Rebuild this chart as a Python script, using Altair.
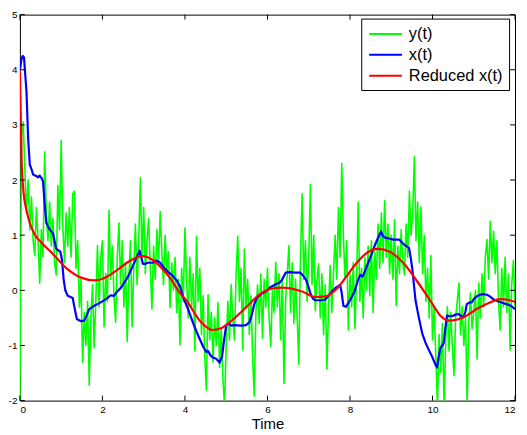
import altair as alt
import pandas as pd

SERIES = ["y(t)", "x(t)", "Reduced x(t)"]
COLORS = ["#00ff00", "#0000ff", "#ff0000"]
TICKS_X = [0, 2, 4, 6, 8, 10, 12]
TICKS_Y = [-2, -1, 0, 1, 2, 3, 4, 5]

# y(t): noisy observation, sampled every 0.04
GREEN_Y = [
    -2.1, 2.8, 3.05, 2.2, 1.4, 2.0, 1.1, 1.69, 0.9, 0.63, 1.5, 0.9, 0.13, 1.1, 0.6, 2.51, 1.4, 0.9, 1.6, 0.8, 1.3, 0.5, 0.28, 1.9, 1.1,
    2.72, 1.2, 0.5, 1.4, 0.8, 1.5, 0.6, 1.75, 1.8, 0.4, 0.9, -0.3, 0.2, -1.31, -0.4, -1.0, -0.2, -1.72, -0.5, 0.1, -1.04, -0.2, 0.81, -0.3, 0.6,
    0.9, -0.66, 0.3, -0.2, 1.45, 0.2, 0.8, -0.1, -0.58, 0.6, 1.22, 0.1, 0.9, -0.3, 0.5, -0.93, 0.2, 0.9, -0.66, 0.4, 1.2, 0.1, 0.9, 2.04, 0.6,
    1.5, 0.3, 0.9, 1.3, 0.4, -0.34, 0.8, 0.2, 1.1, 0.5, 1.43, 0.7, 0.1, 1.0, 0.3, 0.7, -0.31, 0.5, 0.0, 0.6, -0.4, 0.2, -0.99, 0.4, -0.2,
    1.13, 0.2, -0.5, 0.6, -0.3, 0.3, -1.1, 0.98, -0.2, 0.4, -0.8, -0.1, -1.2, -1.81, -0.08, -0.9, -0.4, -1.3, -0.5, -1.0, -0.22, -1.4, -0.7, -1.6, -2.1,
    -1.0, -0.2, -0.9, 0.1, -0.5, -0.9, 0.3, 0.98, -0.2, 0.4, -1.08, 0.75, -0.3, 0.2, -0.8, -0.1, -1.2, -1.92, -0.4, 0.1, -0.6, 0.3, -0.87, 0.2, -0.3,
    0.4, -0.5, -1.02, 0.0, -0.4, 0.51, -0.3, 0.3, -0.9, 0.2, -1.69, -0.2, 0.3, 0.81, -0.4, 0.5, -0.6, 0.2, -0.5, -1.34, 0.6, 1.75, 0.2, 0.9, -0.2,
    0.6, 1.92, 0.1, 1.0, -0.37, 0.2, 0.48, -0.5, 0.3, -0.8, 0.1, -1.43, -0.3, 0.45, -0.4, 0.3, 1.0, 0.2, 1.5, 0.6, 2.3, 1.0, 0.2, 0.9, -0.72,
    0.3, -0.3, 0.5, -0.69, 0.2, 1.6, -0.2, 0.4, -0.5, 0.6, 0.0, 0.8, -0.1, 0.9, -0.4, 0.7, 0.2, 1.2, 0.4, 1.4, 0.5, 1.63, 0.6, 1.2, 0.3,
    1.0, 0.2, 1.28, -0.28, 0.8, 0.3, 1.1, 0.5, 0.28, 1.2, 0.6, 1.8, 1.0, 1.4, 2.42, 0.9, 1.6, 0.5, 1.51, 0.3, 1.0, -0.2, 0.4, -0.5, 0.63,
    -0.9, -0.3, -1.2, -2.1, -0.8, -1.5, -0.6, -2.1, -0.9, -0.3, -1.1, -0.4, -1.0, -1.55, -0.5, -0.2, 0.13, -0.8, -0.3, -1.0, -0.5, -2.05, -0.6, -0.05, -0.7,
    -0.4, 0.0, -1.25, 0.13, -0.5, 0.3, -0.3, 0.6, 0.92, 0.2, 1.25, 0.5, 1.07, 0.3, 0.9, -0.2, -0.72, 0.4, -0.3, 0.6, -0.4, 0.3, -1.08, 0.1, 0.54, -0.3,
]
GREEN_T = [round(i * 0.04, 2) for i in range(len(GREEN_Y))]

# x(t)
BLUE_T = [0, 0.04, 0.07, 0.1, 0.13, 0.16, 0.2, 0.24, 0.28, 0.32, 0.38, 0.44, 0.48, 0.52, 0.56, 0.6, 0.64, 0.68, 0.74, 0.8,
          0.88, 0.98, 1.02, 1.06, 1.1, 1.16, 1.28, 1.32, 1.38, 1.48, 1.56, 1.62, 1.68, 1.78, 1.88, 2.0, 2.12, 2.2, 2.28, 2.36,
          2.44, 2.6, 2.76, 2.9, 2.98, 3.04, 3.1, 3.22, 3.32, 3.4, 3.48, 3.58, 3.68, 3.8, 3.88, 3.96, 4.08, 4.2, 4.32, 4.44,
          4.52, 4.56, 4.62, 4.68, 4.76, 4.84, 4.9, 4.94, 5.0, 5.06, 5.12, 5.2, 5.36, 5.48, 5.56, 5.62, 5.68, 5.74, 5.86, 5.96,
          6.06, 6.2, 6.3, 6.36, 6.44, 6.56, 6.68, 6.8, 6.88, 6.94, 7.0, 7.04, 7.1, 7.16, 7.3, 7.4, 7.48, 7.56, 7.66, 7.76,
          7.8, 7.84, 7.9, 8.0, 8.11, 8.2, 8.25, 8.31, 8.4, 8.51, 8.62, 8.75, 8.8, 8.87, 8.95, 9.05, 9.19, 9.31, 9.43, 9.47,
          9.51, 9.55, 9.59, 9.67, 9.75, 9.83, 9.91, 10.0, 10.06, 10.11, 10.15, 10.19, 10.24, 10.27, 10.31, 10.35, 10.43, 10.51, 10.56, 10.63,
          10.7, 10.75, 10.8, 10.83, 10.9, 10.95, 11.0, 11.07, 11.15, 11.23, 11.32, 11.39, 11.47, 11.55, 11.67, 11.79, 11.9, 12.0]
BLUE_Y = [4.0, 4.2, 4.25, 4.22, 3.9, 3.6, 2.75, 2.28, 2.2, 2.1, 2.08, 2.05, 2.08, 2.04, 1.98, 1.57, 1.22, 1.16, 1.08, 1.04,
          0.75, 0.70, 0.55, 0.2, 0.0, -0.1, -0.14, -0.3, -0.52, -0.56, -0.55, -0.45, -0.34, -0.29, -0.25, -0.2, -0.14, -0.09, -0.1, -0.02,
          0.04, 0.22, 0.48, 0.72, 0.48, 0.48, 0.5, 0.5, 0.54, 0.5, 0.42, 0.34, 0.28, 0.18, 0.07, -0.13, -0.35, -0.6, -0.82, -1.02,
          -1.12, -1.1, -1.18, -1.22, -1.24, -1.31, -1.2, -0.95, -0.63, -0.6, -0.64, -0.63, -0.64, -0.63, -0.58, -0.45, -0.25, -0.14, -0.06, -0.02,
          0.05, 0.11, 0.14, 0.2, 0.32, 0.33, 0.32, 0.32, 0.25, 0.18, 0.05, -0.05, -0.15, -0.18, -0.18, -0.17, -0.1, -0.02, 0.05, 0.1,
          -0.05, -0.28, -0.3, -0.18, -0.02, 0.2, 0.28, 0.25, 0.42, 0.63, 0.85, 1.07, 0.98, 0.95, 0.94, 0.92, 0.92, 0.83, 0.77, 0.6,
          0.39, 0.1, -0.19, -0.5, -0.78, -0.95, -1.08, -1.22, -1.33, -1.4, -1.2, -1.05, -1.0, -0.96, -0.7, -0.46, -0.47, -0.46, -0.44, -0.43,
          -0.47, -0.49, -0.38, -0.25, -0.22, -0.22, -0.16, -0.11, -0.08, -0.07, -0.08, -0.11, -0.16, -0.19, -0.22, -0.25, -0.28, -0.34]

# Reduced x(t)
RED_T = [0, 0.04, 0.08, 0.16, 0.24, 0.36, 0.5, 0.76, 1.16, 1.48, 1.82, 2.1, 2.36, 2.7, 2.96, 3.2, 3.48, 3.64, 3.88, 4.04,
         4.36, 4.68, 4.9, 5.08, 5.48, 5.8, 6.1, 6.36, 6.84, 7.16, 7.4, 7.72, 7.95, 8.11, 8.43, 8.67, 8.99, 9.31, 9.63, 9.95,
         10.19, 10.43, 10.75, 11.07, 11.39, 11.63, 11.87, 12.0]
RED_Y = [4.0, 2.4, 1.85, 1.45, 1.22, 1.01, 0.88, 0.69, 0.38, 0.23, 0.18, 0.24, 0.37, 0.55, 0.62, 0.56, 0.37, 0.22, -0.05, -0.19,
         -0.55, -0.72, -0.68, -0.58, -0.31, -0.08, 0.03, 0.05, -0.02, -0.12, -0.11, 0.06, 0.29, 0.45, 0.69, 0.75, 0.69, 0.48, 0.16, -0.19,
         -0.46, -0.55, -0.49, -0.34, -0.22, -0.16, -0.18, -0.21]

W, H = 499, 389
FONT = "Liberation Sans"

green_df = pd.DataFrame({"t": GREEN_T, "v": GREEN_Y, "s": SERIES[0]})
blue_df = pd.DataFrame({"t": BLUE_T, "v": BLUE_Y, "s": SERIES[1]})
red_df = pd.DataFrame({"t": RED_T, "v": RED_Y, "s": SERIES[2]})

xscale = alt.Scale(domain=[0, 12], nice=False, zero=False)
yscale = alt.Scale(domain=[-2, 5], nice=False, zero=False)

X = alt.X("t:Q", scale=xscale,
          axis=alt.Axis(values=TICKS_X, ticks=False, domain=False, grid=False,
                        labelPadding=4, labelFontSize=10, labelFont=FONT, labelColor="black",
                        title="Time", titleFontSize=15, titleFont=FONT, titleFontWeight="normal",
                        titleColor="black", titlePadding=2))
Y = alt.Y("v:Q", scale=yscale,
          axis=alt.Axis(values=TICKS_Y, ticks=False, domain=False, grid=False,
                        labelPadding=3, labelFontSize=10, labelFont=FONT, labelColor="black",
                        labelExpr="'' + datum.value", title=""))

color = alt.Color("s:N", scale=alt.Scale(domain=SERIES, range=COLORS), sort=SERIES,
                  legend=alt.Legend(title=None, orient="none", legendX=344, legendY=4,
                                    symbolType="M-2,0H2", symbolSize=272, symbolStrokeWidth=2,
                                    symbolOffset=9, labelOffset=14,
                                    labelFontSize=16.5, labelFont=FONT, labelColor="black",
                                    padding=6, rowPadding=3,
                                    strokeColor="black", fillColor="white", cornerRadius=0))

green = alt.Chart(green_df).mark_line(strokeWidth=1.6, clip=True, strokeJoin="round").encode(x=X, y=Y, color=color)
blue = alt.Chart(blue_df).mark_line(strokeWidth=2.2, clip=True, strokeJoin="round").encode(x=X, y=Y, color=color)
red = alt.Chart(red_df).mark_line(strokeWidth=2.2, clip=True, interpolate="monotone").encode(x=X, y=Y, color=color)

xt = pd.DataFrame({"t": TICKS_X})
yt = pd.DataFrame({"v": TICKS_Y})
tick_bottom = alt.Chart(xt).mark_rule(color="black", strokeWidth=1).encode(x=X, y=alt.value(H), y2=alt.value(H - 5))
tick_top = alt.Chart(xt).mark_rule(color="black", strokeWidth=1).encode(x=X, y=alt.value(0), y2=alt.value(5))
tick_left = alt.Chart(yt).mark_rule(color="black", strokeWidth=1).encode(y=Y, x=alt.value(0), x2=alt.value(5))
tick_right = alt.Chart(yt).mark_rule(color="black", strokeWidth=1).encode(y=Y, x=alt.value(W - 5), x2=alt.value(W))

chart = alt.layer(green, blue, red, tick_bottom, tick_top, tick_left, tick_right).properties(
    width=W, height=H,
    autosize=alt.AutoSizeParams(type="none"),
    padding={"left": 12, "top": 5, "right": 4, "bottom": 33},
    background="white",
).configure_view(stroke="black", strokeWidth=1)

chart.save("out.html", embed_options={"renderer": "svg", "actions": False})
